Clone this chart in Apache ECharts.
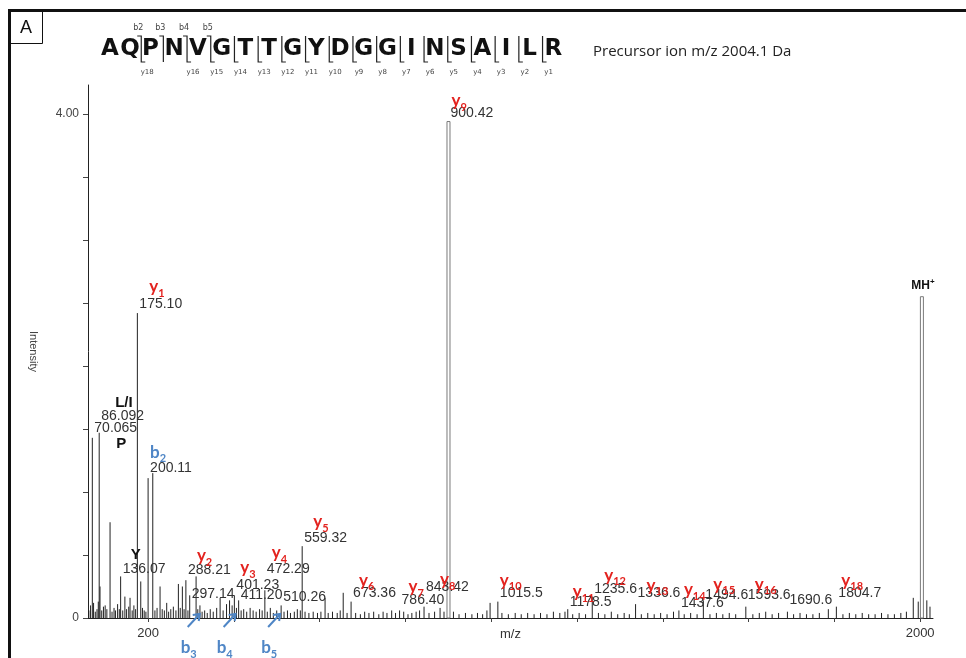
<!DOCTYPE html>
<html>
<head>
<meta charset="utf-8">
<title>MS/MS spectrum AQPNVGTTGYDGGINSAILR</title>
<script src="https://cdn.jsdelivr.net/npm/echarts@6.0.0/dist/echarts.min.js"></script>
<style>
  html, body { margin: 0; padding: 0; background: #fff; }
  #chart { width: 966px; height: 658px; }
</style>
</head>
<body>
<div id="chart"></div>
<script>
// ---- peptide and fragment coverage ----
const sequence = ['A','Q','P','N','V','G','T','T','G','Y','D','G','G','I','N','S','A','I','L','R'];
const bIons = [2, 3, 4, 5];
const yIons = [18, 16, 15, 14, 13, 12, 11, 10, 9, 8, 7, 6, 5, 4, 3, 2, 1];
const precursorMz = 2004.1;
const precursorIntensity = 2.55;

// ---- annotated peaks (m/z text as printed, relative intensity, assigned ion) ----
const peakLabels = ['70.065','86.092','136.07','175.10','200.11','288.21','297.14','401.23','411.20','472.29','510.26','559.32','673.36','786.40','843.42','900.42','1015.5','1178.5','1235.6','1336.6','1437.6','1494.6','1593.6','1690.6','1804.7'];
const peakHeights = [1.43, 1.47, 0.33, 2.42, 1.11, 0.30, 0.18, 0.18, 0.14, 0.22, 0.10, 0.57, 0.13, 0.06, 0.09, 3.94, 0.13, 0.07, 0.17, 0.11, 0.06, 0.14, 0.09, 0.05, 0.09];
const peakIons = ['P','L/I','Y','y1','b2','y2','b3','y3','b4','y4','b5','y5','y6','y7','y8','y9','y10','y11','y12','y13','y14','y15','y16','','y18'];

// ---- other (unassigned) peaks ----
const otherMz = [62, 66, 73, 77, 81, 84, 88, 92, 96, 100, 104, 111.4, 116, 120.7, 124, 129, 133, 141, 146, 150, 155, 158, 163, 167, 171, 183, 187, 191, 195, 211, 216, 221, 228, 233, 238, 243.5, 248, 253, 259, 265, 270.7, 275, 280, 284, 293, 312, 316, 321, 326, 332, 338, 345, 352, 360, 368, 375, 383, 390, 396, 406, 417, 423, 430, 438, 445, 452, 460, 466, 478, 485, 492, 500, 517, 525, 532, 541, 548, 555, 566, 575, 585, 595, 603, 612.7, 620, 630, 641, 648, 655, 664, 684, 695, 705, 715, 726, 738, 748, 757, 768, 777, 796, 806, 815, 825, 833, 855, 868, 880.8, 890, 912, 925, 940, 955, 968, 980, 990, 997.4, 1025, 1040, 1056, 1070, 1085, 1100, 1115, 1130, 1145, 1160, 1172, 1190, 1205, 1220, 1250, 1265, 1280, 1295, 1310, 1322, 1350, 1365, 1380, 1395, 1410, 1425, 1450, 1465, 1480, 1510, 1525, 1540, 1555, 1570, 1610, 1625, 1640, 1655, 1670, 1705, 1720, 1735, 1750, 1765, 1786, 1820, 1835, 1850, 1865, 1880, 1895, 1910, 1925, 1940, 1955, 1968, 1984, 1995.6, 2015.6, 2023];
const otherIntensity = [0.06, 0.10, 0.12, 0.05, 0.07, 0.13, 0.25, 0.06, 0.09, 0.10, 0.07, 0.76, 0.05, 0.08, 0.06, 0.11, 0.07, 0.06, 0.17, 0.07, 0.09, 0.16, 0.06, 0.10, 0.07, 0.29, 0.08, 0.06, 0.05, 1.15, 0.06, 0.08, 0.25, 0.07, 0.06, 0.12, 0.05, 0.07, 0.09, 0.06, 0.27, 0.08, 0.25, 0.07, 0.06, 0.33, 0.07, 0.10, 0.05, 0.06, 0.04, 0.07, 0.05, 0.08, 0.16, 0.06, 0.11, 0.14, 0.10, 0.08, 0.06, 0.07, 0.05, 0.08, 0.06, 0.05, 0.07, 0.06, 0.05, 0.08, 0.04, 0.06, 0.05, 0.06, 0.04, 0.05, 0.07, 0.06, 0.05, 0.04, 0.05, 0.04, 0.05, 0.16, 0.04, 0.05, 0.04, 0.06, 0.20, 0.04, 0.04, 0.03, 0.05, 0.04, 0.05, 0.03, 0.05, 0.04, 0.06, 0.04, 0.05, 0.03, 0.04, 0.05, 0.06, 0.04, 0.05, 0.08, 0.05, 0.05, 0.03, 0.04, 0.03, 0.04, 0.03, 0.06, 0.12, 0.04, 0.03, 0.04, 0.03, 0.04, 0.03, 0.04, 0.03, 0.05, 0.04, 0.05, 0.03, 0.04, 0.03, 0.04, 0.03, 0.05, 0.03, 0.04, 0.03, 0.03, 0.04, 0.03, 0.04, 0.03, 0.05, 0.03, 0.04, 0.03, 0.03, 0.04, 0.03, 0.04, 0.03, 0.03, 0.04, 0.05, 0.03, 0.04, 0.03, 0.04, 0.03, 0.03, 0.04, 0.07, 0.03, 0.04, 0.03, 0.04, 0.03, 0.03, 0.04, 0.03, 0.03, 0.04, 0.05, 0.16, 0.13, 0.14, 0.09];

// ---- axis ticks ----
const xTicks = [200, 400, 600, 800, 1000, 1200, 1400, 1600, 1800, 2000];
const xTickLabels = [200, 2000];
const yTicks = [0, 0.5, 1, 1.5, 2, 2.5, 3, 3.5, 4];
const yTickLabels = [0, 4];

// ---- label layout: level of each m/z text (intensity units) and ion tag offsets in px ----
const labelLevel = [1.508, 1.603, 0.389, 2.492, 1.19, 0.381, 0.19, 0.262, 0.183, 0.389, 0.167, 0.635, 0.198, 0.143, 0.246, 4.008, 0.198, 0.127, 0.23, 0.198, 0.119, 0.183, 0.183, 0.143, 0.198];
const ionDx = [22, 14, 8, 10, 0, 9, 10, 4, -3, 5, -1, 9, 6, 7, 14, 1, 0, 3, 10, 9, 3, 8, 7, 0, 3];
const ionDy = [16, -13, -14, -17, -16, -14, 0, -17, 0, -16, 0, -16, -13, -13, -7, -12, -13, -10, -14, -8, -13, -10, -10, 0, -13];

const RED = '#e3231f';
const BLUE = '#4f86c6';
const MASS_FONT = '14px "Liberation Sans", Arial, sans-serif';
const ION_FONT = 'bold 17px Lato, sans-serif';
const SUB_FONT = 'bold 11px Lato, sans-serif';
const IMM_FONT = 'bold 15px "Liberation Sans", Arial, sans-serif';

const measureCtx = document.createElement('canvas').getContext('2d');
function textWidth(str, font) { measureCtx.font = font; return measureCtx.measureText(str).width; }

function txt(text, x, y, font, fill, align, vAlign) {
  return { type: 'text', x: x, y: y, silent: true,
    style: { text: text, font: font, fill: fill, textAlign: align || 'left', align: align || 'left',
             textVerticalAlign: vAlign || 'middle', verticalAlign: vAlign || 'middle' } };
}

// ion tag such as y12 (letter + subscript) or an immonium ion (P, L/I, Y)
function ionTag(name, x, y) {
  const m = /^([by])(\d+)$/.exec(name);
  if (!m) return [txt(name, x, y, IMM_FONT, '#111')];
  const color = m[1] === 'y' ? RED : BLUE;
  const w = textWidth(m[1], ION_FONT);
  return [txt(m[1], x, y, ION_FONT, color), txt(m[2], x + w, y + 6, SUB_FONT, color)];
}

// ---- peaks drawn as sticks ----
const peakData = [];
peakLabels.forEach((t, i) => peakData.push([parseFloat(t), peakHeights[i]]));
otherMz.forEach((mz, i) => peakData.push([mz, otherIntensity[i]]));
peakData.push([precursorMz, precursorIntensity]);

function renderStick(params, api) {
  const mz = api.value(0), h = api.value(1);
  const p0 = api.coord([mz, 0]);
  const p1 = api.coord([mz, h]);
  if (h > 2.5) {
    return { type: 'rect', shape: { x: p1[0] - 1.5, y: p1[1], width: 3, height: p0[1] - p1[1] },
      style: { fill: '#fff', stroke: '#7a7a7a', lineWidth: 1 } };
  }
  return { type: 'line', shape: { x1: p0[0], y1: p0[1], x2: p1[0], y2: p1[1] },
    style: { stroke: '#222', lineWidth: 1 } };
}

// ---- annotation labels ----
const annoData = peakLabels.map((t, i) => [parseFloat(t), labelLevel[i], i]);

function renderAnno(params, api) {
  const i = api.value(2);
  const mz = api.value(0);
  const ion = peakIons[i];
  const children = [];
  const pos = api.coord([mz, api.value(1)]);
  const x0 = pos[0] + 2;
  children.push(txt(peakLabels[i], x0, pos[1], MASS_FONT, '#333'));
  if (/^b[345]$/.test(ion)) {
    // fragment marked below the axis with an arrow
    const base = api.coord([mz, 0]);
    const tx = base[0] + ionDx[i], ty = base[1] - 4;
    const sx = tx - 12, sy = ty + 13;
    children.push({ type: 'line', silent: true, shape: { x1: sx, y1: sy, x2: tx, y2: ty },
      style: { stroke: BLUE, lineWidth: 2 } });
    children.push({ type: 'polyline', silent: true, shape: { points: [[tx - 7, ty + 1], [tx, ty], [tx - 1, ty + 7]] },
      style: { stroke: BLUE, lineWidth: 2, fill: null } });
    ionTag(ion, tx - 19, base[1] + 30).forEach(c => children.push(c));
  } else if (ion) {
    ionTag(ion, x0 + ionDx[i], pos[1] + ionDy[i]).forEach(c => children.push(c));
  }
  return { type: 'group', children: children };
}

function renderPrecursorTag(params, api) {
  const p = api.coord([api.value(0), api.value(1)]);
  return { type: 'group', children: [
    txt('MH', p[0] + 8, p[1] - 11, 'bold 12px "Liberation Sans", Arial, sans-serif', '#111', 'right'),
    txt('+', p[0] + 8, p[1] - 15, 'bold 8px "Liberation Sans", Arial, sans-serif', '#111', 'left')
  ] };
}

// ---- header: sequence with fragment brackets ----
function letterX(k) { return k === 0 ? 110 : k === 1 ? 130 : 150.5 + (k - 2) * 23.7; }
function siteX(k) { return (letterX(k - 1) + letterX(k)) / 2 + 1; }

const graphic = [];
graphic.push({ type: 'line', silent: true, shape: { x1: 8, y1: 10.5, x2: 966, y2: 10.5 }, style: { stroke: '#111', lineWidth: 3 } });
graphic.push({ type: 'line', silent: true, shape: { x1: 9.5, y1: 9, x2: 9.5, y2: 658 }, style: { stroke: '#111', lineWidth: 3 } });
graphic.push({ type: 'rect', silent: true, shape: { x: 9.5, y: 10.5, width: 33, height: 33 }, style: { fill: 'none', stroke: '#111', lineWidth: 1 } });
graphic.push(txt('A', 26, 28, '18px "Liberation Sans", Arial, sans-serif', '#111', 'center'));

sequence.forEach((aa, k) => {
  graphic.push(txt(aa, letterX(k), 49, 'bold 23px "DejaVu Sans", sans-serif', '#111', 'center'));
});
const TOP = 36, BOT = 62;
for (let k = 1; k < sequence.length; k++) {
  const hasB = bIons.indexOf(k) >= 0;
  const hasY = yIons.indexOf(sequence.length - k) >= 0;
  if (!hasB && !hasY) continue;
  const x = siteX(k);
  const pts = [];
  if (hasB) pts.push([x - 4, TOP]);
  pts.push([x, TOP]);
  pts.push([x, BOT]);
  if (hasY) pts.push([x + 4, BOT]);
  graphic.push({ type: 'polyline', silent: true, shape: { points: pts }, style: { stroke: '#222', lineWidth: 1.2, fill: null } });
  if (hasB) graphic.push(txt('b' + k, x - 3, 28, '8px "DejaVu Sans", sans-serif', '#444', 'center'));
  if (hasY) graphic.push(txt('y' + (sequence.length - k), x + 6, 72, '7px "DejaVu Sans", sans-serif', '#444', 'center'));
}
graphic.push(txt('Precursor ion m/z ' + precursorMz.toFixed(1) + ' Da', 593, 52, '15px "Open Sans", sans-serif', '#222'));

const chart = echarts.init(document.getElementById('chart'), null, { renderer: 'canvas' });
chart.setOption({
  animation: false,
  backgroundColor: '#fff',
  grid: { left: 88, right: 33, top: 85, bottom: 40 },
  xAxis: {
    type: 'value', min: 60, max: 2030,
    name: 'm/z', nameLocation: 'middle', nameGap: 10, nameMoveOverlap: false,
    nameTextStyle: { fontFamily: 'Liberation Sans', fontSize: 13, color: '#333' },
    axisLine: { lineStyle: { color: '#222', width: 1 } },
    axisTick: { show: true, length: 4, customValues: xTicks, lineStyle: { color: '#444' } },
    axisLabel: { customValues: xTickLabels, fontFamily: 'Liberation Sans', fontSize: 13, color: '#333', margin: 9,
      formatter: v => String(v) },
    splitLine: { show: false }
  },
  yAxis: {
    type: 'value', min: 0, max: 4.23,
    name: 'Intensity', nameLocation: 'middle', nameGap: 49, nameRotate: -90, nameMoveOverlap: false,
    nameTextStyle: { fontFamily: 'Liberation Sans', fontSize: 11, color: '#444' },
    axisLine: { show: true, lineStyle: { color: '#222', width: 1 } },
    axisTick: { show: true, length: 5, customValues: yTicks, lineStyle: { color: '#444' } },
    axisLabel: { customValues: yTickLabels, fontFamily: 'Liberation Sans', fontSize: 12, color: '#444', margin: 9,
      formatter: v => (v === 0 ? '0' : v.toFixed(2)) },
    splitLine: { show: false }
  },
  graphic: graphic,
  series: [
    { type: 'custom', name: 'peaks', data: peakData, renderItem: renderStick, encode: { x: 0, y: 1 }, z: 2 },
    { type: 'custom', name: 'labels', data: annoData, renderItem: renderAnno, encode: { x: 0, y: 1 }, z: 3, clip: false },
    { type: 'custom', name: 'precursor', data: [[precursorMz, precursorIntensity]], renderItem: renderPrecursorTag, encode: { x: 0, y: 1 }, z: 3, clip: false }
  ]
});
</script>
</body>
</html>
